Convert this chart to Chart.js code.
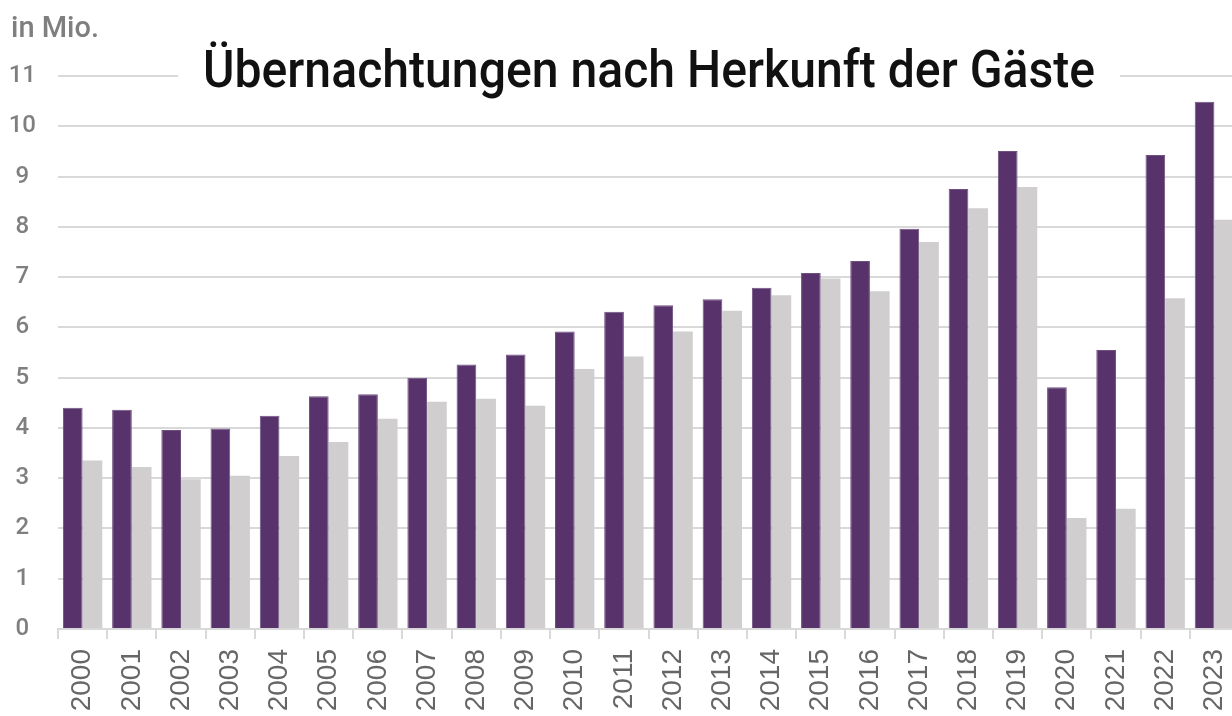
<!DOCTYPE html>
<html lang="de">
<head>
<meta charset="utf-8">
<title>Übernachtungen nach Herkunft der Gäste</title>
<script src="https://cdn.jsdelivr.net/npm/chart.js@4/dist/chart.umd.min.js"></script>
<style>
  html, body { margin: 0; padding: 0; background: #fff; overflow: hidden; }
  #wrap { position: relative; width: 1240px; height: 716px; }
</style>
</head>
<body>
<div id="wrap"><canvas id="nightsChart"></canvas></div>
<script>
// Übernachtungen in Mio., 2000–2023
const years = ['2000', '2001', '2002', '2003', '2004', '2005', '2006', '2007', '2008', '2009', '2010', '2011',
  '2012', '2013', '2014', '2015', '2016', '2017', '2018', '2019', '2020', '2021', '2022', '2023'];
const inland = [4.40, 4.36, 3.96, 3.99, 4.24, 4.63, 4.67, 5.00, 5.26, 5.46, 5.92, 6.31,
  6.44, 6.56, 6.79, 7.08, 7.32, 7.96, 8.75, 9.51, 4.81, 5.55, 9.43, 10.49];
const ausland = [3.35, 3.22, 2.98, 3.05, 3.44, 3.72, 4.18, 4.52, 4.58, 4.44, 5.17, 5.42,
  5.92, 6.33, 6.64, 6.97, 6.72, 7.70, 8.37, 8.79, 2.21, 2.39, 6.58, 8.14];
const yTicks = [0, 1, 2, 3, 4, 5, 6, 7, 8, 9, 10, 11];

const titleText = 'Übernachtungen nach Herkunft der Gäste';
const unitText = 'in Mio.';

// title sits on top of the 11-gridline with a white backing, unit label top-left
const overlayTitle = {
  id: 'overlayTitle',
  afterDraw(chart) {
    const ctx = chart.ctx;
    ctx.save();
    ctx.fillStyle = '#fff';
    ctx.fillRect(178, 55, 942, 40);

    ctx.font = '500 52px Roboto, sans-serif';
    const w = ctx.measureText(titleText).width;
    const sx = 892 / w;
    ctx.translate(649, 87);
    ctx.scale(sx, 1);
    ctx.fillStyle = '#111';
    ctx.textAlign = 'center';
    ctx.textBaseline = 'alphabetic';
    ctx.fillText(titleText, 0, 0);
    ctx.restore();

    ctx.save();
    ctx.font = '500 29px Roboto, sans-serif';
    ctx.fillStyle = '#7f7f7f';
    ctx.textAlign = 'left';
    ctx.textBaseline = 'alphabetic';
    ctx.fillText(unitText, 11, 37);
    ctx.restore();
  }
};

const ctx = document.getElementById('nightsChart').getContext('2d');
new Chart(ctx, {
  type: 'bar',
  data: {
    labels: years,
    datasets: [
      {
        label: 'Inland',
        data: inland,
        backgroundColor: '#58326a',
        borderColor: '#6f5081',
        borderWidth: 1,
        borderSkipped: 'bottom',
        categoryPercentage: 0.8,
        barPercentage: 1.0
      },
      {
        label: 'Ausland',
        data: ausland,
        backgroundColor: '#d0cecf',
        borderWidth: 0,
        categoryPercentage: 0.8,
        barPercentage: 1.0
      }
    ]
  },
  options: {
    responsive: true,
    maintainAspectRatio: false,
    animation: false,
    layout: { padding: { top: 76, right: 1, left: 0, bottom: 0 } },
    plugins: {
      legend: { display: false },
      title: { display: false },
      tooltip: { enabled: false }
    },
    scales: {
      x: {
        offset: true,
        grid: {
          offset: true,
          drawOnChartArea: false,
          drawTicks: true,
          tickLength: 10,
          color: '#d9d9d9',
          lineWidth: 2
        },
        border: { display: true, color: '#d9d9d9', width: 2 },
        ticks: {
          minRotation: 90,
          maxRotation: 90,
          padding: 10,
          color: '#666',
          font: { family: 'Liberation Sans, Arial, sans-serif', size: 28 }
        },
        afterFit(scale) {
          scale.height = 87;
          scale.paddingLeft = 0;
          scale.paddingRight = 0;
        }
      },
      y: {
        min: 0,
        max: 11,
        afterBuildTicks(scale) { scale.ticks = yTicks.map(v => ({ value: v })); },
        grid: {
          color: '#d9d9d9',
          lineWidth: 2,
          drawTicks: false
        },
        border: { display: false },
        ticks: {
          padding: 22,
          crossAlign: 'center',
          color: '#7f7f7f',
          font: { family: 'Roboto, sans-serif', size: 24, weight: '500' }
        },
        afterFit(scale) { scale.width = 58; }
      }
    }
  },
  plugins: [overlayTitle]
});
</script>
</body>
</html>
